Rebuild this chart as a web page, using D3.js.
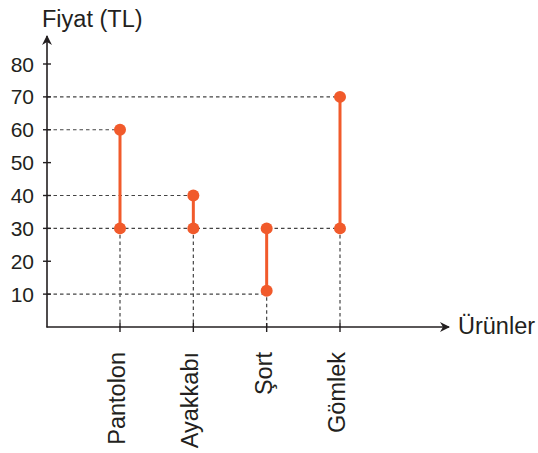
<!DOCTYPE html>
<html><head><meta charset="utf-8">
<script src="https://cdn.jsdelivr.net/npm/d3@7"></script>
<style>body{margin:0;background:#fff}svg{display:block}text{font-family:"Liberation Sans",Arial,sans-serif;fill:#231f20}</style>
</head><body><svg id="c" width="538" height="453"></svg>
<script>
const categories = ["Pantolon","Ayakkabı","Şort","Gömlek"];
const lowValues = [30,30,11,30];
const highValues = [60,40,30,70];
const yTicks = [10,20,30,40,50,60,70,80];
const yTitle = "Fiyat (TL)";
const xTitle = "Ürünler";

const svg = d3.select("#c");
const ox = 47, oy = 327;
const y = d3.scaleLinear().domain([0,80]).range([oy, 64]);
const x = d3.scalePoint().domain(categories).range([120,340]);
const ink = "#231f20", orange = "#f15a2b";

// guides
const dash = "3.5,3";
const guides = [];
categories.forEach((c,i)=>{
  [lowValues[i], highValues[i]].forEach(v=>{
    const g = Math.round(v/10)*10;
    const ex = guides.find(d=>d.v===g);
    if (ex) ex.x = Math.max(ex.x, x(c)); else guides.push({v:g, x:x(c)});
  });
});
svg.append("g").selectAll("line").data(guides).join("line")
  .attr("x1", ox).attr("x2", d=>d.x).attr("y1", d=>y(d.v)).attr("y2", d=>y(d.v))
  .attr("stroke", "#444").attr("stroke-width",1.2).attr("stroke-dasharray",dash);
svg.append("g").selectAll("line").data(categories).join("line")
  .attr("x1", d=>x(d)).attr("x2", d=>x(d))
  .attr("y1", (d,i)=>y(lowValues[i])).attr("y2", oy)
  .attr("stroke", "#444").attr("stroke-width",1.2).attr("stroke-dasharray",dash);

// axes
svg.append("defs").append("marker").attr("id","ar").attr("viewBox","0 0 10 10")
  .attr("refX",9).attr("refY",5).attr("markerWidth",10).attr("markerHeight",10)
  .attr("markerUnits","userSpaceOnUse").attr("orient","auto")
  .append("path").attr("d","M0,0 L10,5 L0,10 L3,5 Z").attr("fill",ink);
svg.append("line").attr("x1",ox).attr("y1",oy+0.5).attr("x2",ox).attr("y2",36)
  .attr("stroke",ink).attr("stroke-width",1.6).attr("marker-end","url(#ar)");
svg.append("line").attr("x1",ox-0.5).attr("y1",oy).attr("x2",449).attr("y2",oy)
  .attr("stroke",ink).attr("stroke-width",1.6).attr("marker-end","url(#ar)");

const yAxis = svg.append("g");
yAxis.selectAll("line").data(yTicks).join("line")
  .attr("x1",ox-4).attr("x2",ox+4).attr("y1",d=>y(d)).attr("y2",d=>y(d))
  .attr("stroke",ink).attr("stroke-width",1.4);
yAxis.selectAll("text").data(yTicks).join("text")
  .attr("x",34).attr("y",d=>y(d)).attr("dy","0.36em").attr("text-anchor","end")
  .attr("font-size",21).text(d=>d);

const xAxis = svg.append("g");
xAxis.selectAll("line").data(categories).join("line")
  .attr("x1",d=>x(d)).attr("x2",d=>x(d)).attr("y1",oy-4).attr("y2",oy+5)
  .attr("stroke",ink).attr("stroke-width",1.4);
xAxis.selectAll("text").data(categories).join("text")
  .attr("transform",d=>`translate(${x(d)+5},352) rotate(-90)`)
  .attr("text-anchor","end").attr("font-size",23.5).text(d=>d);

svg.append("text").attr("x",42).attr("y",27).attr("font-size",23.5).text(yTitle);
svg.append("text").attr("x",458).attr("y",334).attr("font-size",23.5).text(xTitle);

// ranges
svg.append("g").selectAll("line").data(categories).join("line")
  .attr("x1",d=>x(d)).attr("x2",d=>x(d))
  .attr("y1",(d,i)=>y(lowValues[i])).attr("y2",(d,i)=>y(highValues[i]))
  .attr("stroke",orange).attr("stroke-width",3);
const pts = [];
categories.forEach((c,i)=>{pts.push({c,v:lowValues[i]});pts.push({c,v:highValues[i]});});
svg.append("g").selectAll("circle").data(pts).join("circle")
  .attr("cx",d=>x(d.c)).attr("cy",d=>y(d.v)).attr("r",6).attr("fill",orange);
</script></body></html>
